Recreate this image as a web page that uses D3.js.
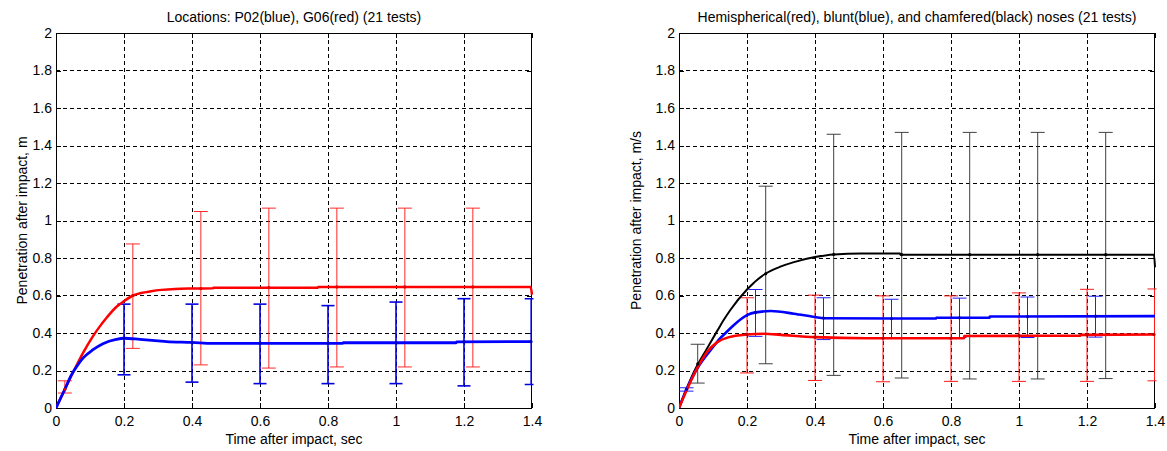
<!DOCTYPE html>
<html>
<head>
<meta charset="utf-8">
<script src="https://cdn.jsdelivr.net/npm/d3@7"></script>
<style>
  html, body { margin: 0; padding: 0; background: #fff; }
  svg text { font-family: "Liberation Sans", Arial, sans-serif; fill: #000; }
</style>
</head>
<body>
<svg id="chart" width="1167" height="451"></svg>
<script>
// ---------- shared tick labels ----------
const xTicks = [0, 0.2, 0.4, 0.6, 0.8, 1, 1.2, 1.4];
const yTicks = [0, 0.2, 0.4, 0.6, 0.8, 1, 1.2, 1.4, 1.6, 1.8, 2];

// ---------- left chart: Locations ----------
const leftTitle = "Locations: P02(blue), G06(red) (21 tests)";
const leftYLabel = "Penetration after impact, m";
const xLabel = "Time after impact, sec";

const leftRedT = [0, 0.026, 0.053, 0.08, 0.107, 0.13, 0.15, 0.178, 0.2, 0.227, 0.25, 0.28, 0.31, 0.35, 0.4, 0.462, 0.463, 0.77, 0.771, 1.396, 1.4];
const leftRedV = [0, 0.1, 0.2, 0.295, 0.378, 0.438, 0.484, 0.54, 0.57, 0.6, 0.613, 0.623, 0.63, 0.635, 0.637, 0.638, 0.642, 0.642, 0.646, 0.646, 0.604];
const leftBlueT = [0, 0.026, 0.045, 0.065, 0.08, 0.109, 0.138, 0.177, 0.2, 0.247, 0.3, 0.325, 0.4, 0.46, 0.844, 0.845, 1.177, 1.178, 1.4];
const leftBlueV = [0, 0.1, 0.175, 0.232, 0.267, 0.311, 0.343, 0.366, 0.372, 0.366, 0.358, 0.354, 0.35, 0.345, 0.345, 0.348, 0.348, 0.353, 0.354];

const leftRedBarT  = [0.026, 0.226, 0.426, 0.626, 0.826, 1.026, 1.226];
const leftRedBarM  = [0.1, 0.6, 0.637, 0.642, 0.646, 0.646, 0.646];
const leftRedBarHi = [0.145, 0.875, 1.048, 1.066, 1.066, 1.066, 1.066];
const leftRedBarLo = [0.08, 0.318, 0.23, 0.213, 0.219, 0.219, 0.219];

const leftBlueBarT  = [0.2, 0.4, 0.6, 0.8, 1.0, 1.2, 1.4];
const leftBlueBarM  = [0.372, 0.35, 0.345, 0.345, 0.348, 0.353, 0.354];
const leftBlueBarHi = [0.554, 0.554, 0.554, 0.546, 0.565, 0.583, 0.583];
const leftBlueBarLo = [0.177, 0.138, 0.13, 0.13, 0.13, 0.118, 0.125];

// ---------- right chart: Nose shapes ----------
const rightTitle = "Hemispherical(red), blunt(blue), and chamfered(black) noses (21 tests)";
const rightYLabel = "Penetration after impact, m/s";

const rightBlackT = [0, 0.046, 0.08, 0.112, 0.13, 0.15, 0.2, 0.254, 0.3, 0.338, 0.4, 0.456, 0.535, 0.65, 0.651, 1.397, 1.4];
const rightBlackV = [0, 0.2, 0.31, 0.41, 0.465, 0.52, 0.632, 0.716, 0.755, 0.778, 0.805, 0.819, 0.824, 0.824, 0.818, 0.818, 0.75];
const rightBlueT = [0, 0.022, 0.05, 0.1, 0.12, 0.137, 0.16, 0.2, 0.225, 0.27, 0.338, 0.4, 0.427, 0.756, 0.757, 0.913, 0.914, 1.4];
const rightBlueV = [0, 0.1, 0.2, 0.325, 0.37, 0.4, 0.44, 0.495, 0.51, 0.517, 0.503, 0.485, 0.479, 0.477, 0.481, 0.481, 0.488, 0.49];
const rightRedT = [0, 0.05, 0.083, 0.112, 0.147, 0.2, 0.25, 0.3, 0.4, 0.55, 0.838, 0.839, 1.18, 1.181, 1.4];
const rightRedV = [0, 0.2, 0.3, 0.35, 0.378, 0.392, 0.396, 0.39, 0.378, 0.372, 0.372, 0.384, 0.386, 0.39, 0.392];

const rightBlackBarT  = [0.055, 0.255, 0.455, 0.655, 0.855, 1.055, 1.255];
const rightBlackBarM  = [0.235, 0.716, 0.819, 0.818, 0.818, 0.818, 0.818];
const rightBlackBarHi = [0.34, 1.183, 1.46, 1.47, 1.47, 1.47, 1.47];
const rightBlackBarLo = [0.133, 0.236, 0.174, 0.16, 0.155, 0.155, 0.157];

const rightBlueBarT  = [0.022, 0.225, 0.425, 0.625, 0.825, 1.025, 1.225];
const rightBlueBarM  = [0.1, 0.51, 0.48, 0.477, 0.481, 0.487, 0.49];
const rightBlueBarHi = [0.108, 0.632, 0.588, 0.58, 0.586, 0.592, 0.596];
const rightBlueBarLo = [0.09, 0.382, 0.365, 0.372, 0.376, 0.376, 0.378];

const rightRedBarT  = [0.2, 0.4, 0.6, 0.8, 1.0, 1.2, 1.4];
const rightRedBarM  = [0.392, 0.378, 0.372, 0.372, 0.386, 0.39, 0.392];
const rightRedBarHi = [0.588, 0.602, 0.598, 0.598, 0.614, 0.633, 0.635];
const rightRedBarLo = [0.187, 0.147, 0.14, 0.142, 0.142, 0.142, 0.145];

const svg = d3.select("#chart");
svg.append("rect").attr("width", 1167).attr("height", 451).attr("fill", "#fff");

function drawChart(cfg) {
  const x = d3.scaleLinear().domain([0, 1.4]).range([cfg.left, cfg.right]);
  const y = d3.scaleLinear().domain([0, 2]).range([cfg.bottom, cfg.top]);
  const g = svg.append("g");
  const clipId = "clip-" + cfg.id;
  g.append("clipPath").attr("id", clipId).append("rect")
    .attr("x", cfg.left).attr("y", cfg.top - 1)
    .attr("width", cfg.right - cfg.left + 1.5).attr("height", cfg.bottom - cfg.top + 2);

  // grid
  const grid = g.append("g").attr("stroke", "#000").attr("stroke-width", 1)
    .attr("stroke-dasharray", "4,3").attr("shape-rendering", "crispEdges");
  grid.selectAll(".vx").data(xTicks.slice(1, -1)).enter().append("line")
    .attr("x1", d => Math.round(x(d)) + 0.5).attr("x2", d => Math.round(x(d)) + 0.5)
    .attr("y1", cfg.top).attr("y2", cfg.bottom);
  grid.selectAll(".hy").data(yTicks.slice(1, -1)).enter().append("line")
    .attr("y1", d => Math.round(y(d)) + 0.5).attr("y2", d => Math.round(y(d)) + 0.5)
    .attr("x1", cfg.left).attr("x2", cfg.right);

  // axes with inward ticks
  const axB = d3.axisBottom(x).tickValues(xTicks).tickSize(-5).tickPadding(8)
    .tickFormat(d => String(+d.toFixed(1)));
  const axT = d3.axisTop(x).tickValues(xTicks).tickSize(-5).tickFormat("");
  const axL = d3.axisLeft(y).tickValues(yTicks).tickSize(-5).tickPadding(4)
    .tickFormat(d => String(+d.toFixed(1)));
  const axR = d3.axisRight(y).tickValues(yTicks).tickSize(-5).tickFormat("");
  const styleAxis = sel => {
    sel.select(".domain").remove();
    sel.selectAll("line").attr("stroke", "#000").attr("shape-rendering", "crispEdges");
    sel.selectAll("text").attr("font-size", 14).attr("fill", "#000")
      .attr("font-family", '"Liberation Sans", Arial, sans-serif');
  };
  g.append("g").attr("transform", `translate(0,${cfg.bottom})`).call(axB).call(styleAxis);
  g.append("g").attr("transform", `translate(0,${cfg.top})`).call(axT).call(styleAxis);
  g.append("g").attr("transform", `translate(${cfg.left},0)`).call(axL).call(styleAxis);
  g.append("g").attr("transform", `translate(${cfg.right},0)`).call(axR).call(styleAxis);

  // frame (under the data, as in the original)
  g.append("rect").attr("x", cfg.left + 0.5).attr("y", cfg.top + 0.5)
    .attr("width", cfg.right - cfg.left - 1).attr("height", cfg.bottom - cfg.top)
    .attr("fill", "none").attr("stroke", "#000").attr("shape-rendering", "crispEdges");

  // data layer (clipped)
  const dl = g.append("g").attr("clip-path", `url(#${clipId})`);

  cfg.bars.forEach(b => {
    const bg = dl.append("g").attr("stroke", b.color).attr("stroke-width", b.width);
    b.t.forEach((t, i) => {
      const cx = Math.min(x(t), cfg.right - b.width / 2);
      bg.append("line").attr("x1", cx).attr("x2", cx).attr("y1", y(b.lo[i])).attr("y2", y(b.hi[i]));
      bg.append("line").attr("x1", cx - b.cap).attr("x2", cx + b.cap).attr("y1", y(b.lo[i])).attr("y2", y(b.lo[i]));
      bg.append("line").attr("x1", cx - b.cap).attr("x2", cx + b.cap).attr("y1", y(b.hi[i])).attr("y2", y(b.hi[i]));
    });
  });

  const line = d3.line().x(d => x(d[0])).y(d => y(d[1])).curve(d3.curveMonotoneX);
  cfg.lines.forEach(s => {
    dl.append("path").datum(s.t.map((t, i) => [t, s.v[i]]))
      .attr("fill", "none").attr("stroke", s.color).attr("stroke-width", s.width)
      .attr("stroke-linejoin", "round").attr("d", line);
  });

  cfg.bars.forEach(b => {
    dl.append("g").selectAll("circle").data(b.t).enter().append("circle")
      .attr("cx", d => Math.min(x(d), cfg.right - 1)).attr("cy", (d, i) => y(b.m[i])).attr("r", 1.6)
      .attr("fill", b.markColor);
  });

  // texts
  g.append("text").attr("x", (cfg.left + cfg.right) / 2).attr("y", 22)
    .attr("text-anchor", "middle").attr("font-size", 14).text(cfg.title);
  g.append("text").attr("x", (cfg.left + cfg.right) / 2).attr("y", 444)
    .attr("text-anchor", "middle").attr("font-size", 14).text(xLabel);
  g.append("text")
    .attr("transform", `translate(${cfg.ylabelX},${(cfg.top + cfg.bottom) / 2}) rotate(-90)`)
    .attr("text-anchor", "middle").attr("font-size", 14).text(cfg.ylabel);
}

drawChart({
  id: "left", left: 56, right: 532, top: 33, bottom: 408,
  title: leftTitle, ylabel: leftYLabel, ylabelX: 27,
  lines: [
    { t: leftRedT, v: leftRedV, color: "#ff0000", width: 2.5 },
    { t: leftBlueT, v: leftBlueV, color: "#0000ff", width: 2.8 }
  ],
  bars: [
    { t: leftRedBarT, m: leftRedBarM, hi: leftRedBarHi, lo: leftRedBarLo, color: "#ff2a2a", width: 1, cap: 7, markColor: "#e00000" },
    { t: leftBlueBarT, m: leftBlueBarM, hi: leftBlueBarHi, lo: leftBlueBarLo, color: "#0000e0", width: 1.6, cap: 6.5, markColor: "#0000c0" }
  ]
});

drawChart({
  id: "right", left: 679, right: 1155, top: 33, bottom: 408,
  title: rightTitle, ylabel: rightYLabel, ylabelX: 641,
  lines: [
    { t: rightBlackT, v: rightBlackV, color: "#000000", width: 2 },
    { t: rightBlueT, v: rightBlueV, color: "#0000ff", width: 2.6 },
    { t: rightRedT, v: rightRedV, color: "#ff0000", width: 2.6 }
  ],
  bars: [
    { t: rightBlackBarT, m: rightBlackBarM, hi: rightBlackBarHi, lo: rightBlackBarLo, color: "#404040", width: 1, cap: 7, markColor: "#000" },
    { t: rightBlueBarT, m: rightBlueBarM, hi: rightBlueBarHi, lo: rightBlueBarLo, color: "#2020ff", width: 1, cap: 7, markColor: "#0000c0" },
    { t: rightRedBarT, m: rightRedBarM, hi: rightRedBarHi, lo: rightRedBarLo, color: "#ff1a1a", width: 1, cap: 7, markColor: "#c00000" }
  ]
});
</script>
</body>
</html>
